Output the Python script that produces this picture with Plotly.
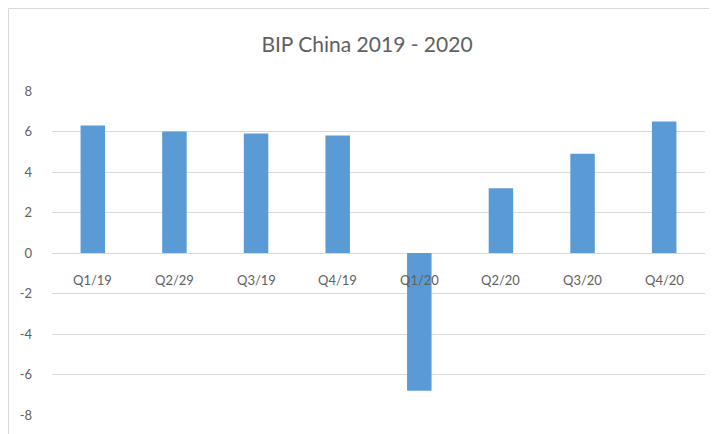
import plotly.graph_objects as go

categories = ["Q1/19", "Q2/29", "Q3/19", "Q4/19", "Q1/20", "Q2/20", "Q3/20", "Q4/20"]
values = [6.3, 6.0, 5.9, 5.8, -6.8, 3.2, 4.9, 6.5]
y_ticks = [-8, -6, -4, -2, 0, 2, 4, 6, 8]
y_tick_text = ["-8", "-6", "-4", "-2", "0", "2", "4", "6", "8"]

# page body has an 8px default margin, so the figure is laid out 8px smaller
W, H = 709, 426
ml, mr, mt, mb = 44, 12, 83, 19
pw, ph = W - ml - mr, H - mt - mb

fig = go.Figure()
fig.add_trace(go.Bar(x=categories, y=values, marker=dict(color="#5b9bd5", line=dict(width=0)),
                     width=0.3))

text_col = "#606060"
font_fam = "Lato, Open Sans, sans-serif"

for c in categories:
    fig.add_annotation(x=c, y=0, xref="x", yref="y", text=c, showarrow=False,
                       yanchor="top", yshift=-17, font=dict(size=13, color=text_col, family=font_fam))

# chart border
fig.add_shape(type="rect", xref="paper", yref="paper",
              x0=(0.5 - ml) / pw, x1=(707 - ml) / pw, y0=-0.3, y1=(ph + mt - 0.5) / ph,
              line=dict(color="#d9d9d9", width=1), fillcolor="rgba(0,0,0,0)", layer="below")

fig.update_layout(
    width=W, height=H,
    margin=dict(l=ml, r=mr, t=mt, b=mb),
    paper_bgcolor="white", plot_bgcolor="white",
    title=dict(text="BIP China 2019 - 2020", x=(367 - 8) / W, xanchor="center", y=1 - 37 / H, yanchor="middle",
               font=dict(size=21, color=text_col, family=font_fam)),
    showlegend=False,
    bargap=0.7,
    xaxis=dict(showticklabels=False, showgrid=False, zeroline=False, showline=False, ticks=""),
    yaxis=dict(range=[-8, 8], tickvals=y_ticks, ticktext=y_tick_text, showgrid=True, gridcolor="#d9d9d9", gridwidth=1,
               zeroline=True, zerolinecolor="#d9d9d9", zerolinewidth=1, showline=False,
               ticks="", ticklabelstandoff=19,
               tickfont=dict(size=13, color=text_col, family=font_fam)),
)

fig.write_html("out.html")
